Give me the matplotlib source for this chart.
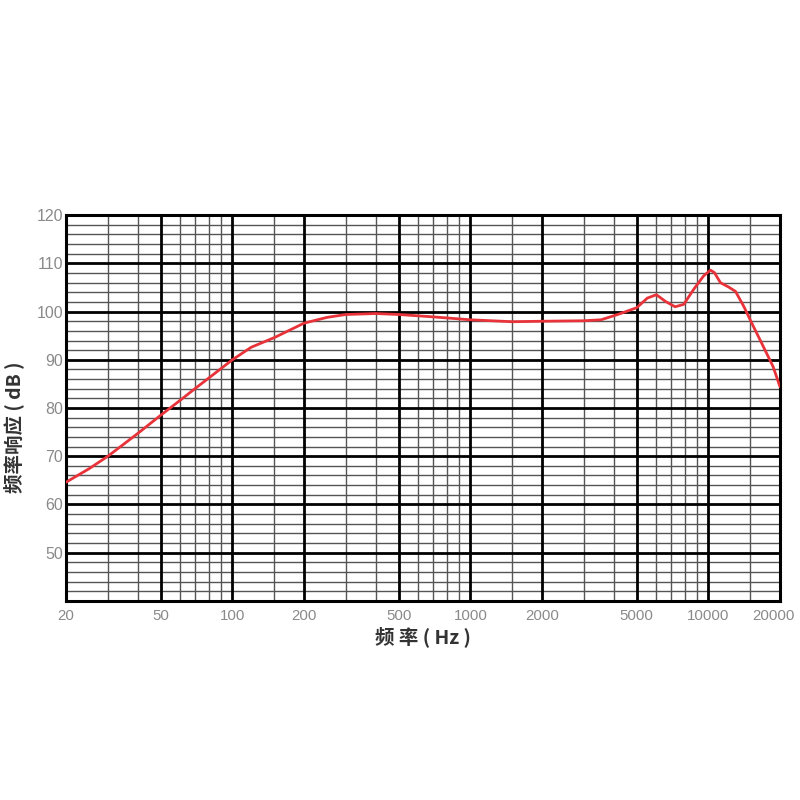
import matplotlib
matplotlib.use("Agg")
import matplotlib.pyplot as plt
import matplotlib.transforms as mtransforms

plt.rcParams['font.family'] = ['Liberation Sans', 'Noto Sans CJK SC', 'DejaVu Sans']

# 频率响应曲线
freq = [20, 25, 30, 40, 50, 60, 70, 80, 100, 120, 150, 200, 250, 300, 400,
        500, 700, 1000, 1500, 2000, 3000, 3540, 4160, 5000, 5540, 6050, 6610,
        7250, 7880, 8670, 9550, 10200, 10600, 11240, 12160, 13000, 14080,
        15470, 17000, 18700, 20000]
db = [64.6, 67.4, 70.0, 74.7, 78.5, 81.5, 84.1, 86.3, 90.0, 92.6, 94.6,
      97.6, 98.8, 99.4, 99.6, 99.4, 98.9, 98.3, 97.9, 98.0, 98.1, 98.3, 99.4,
      100.8, 102.8, 103.5, 102.1, 101.0, 101.5, 104.6, 107.4, 108.6, 108.1,
      106.0, 105.1, 104.2, 101.1, 96.9, 92.8, 88.6, 84.4]

major_x = [20, 50, 100, 200, 500, 1000, 2000, 5000, 10000, 20000]
minor_x = [30, 40, 60, 70, 80, 90, 150, 300, 400, 600, 700, 800, 900,
           1500, 3000, 4000, 6000, 7000, 8000, 9000, 15000]
major_y = [50, 60, 70, 80, 90, 100, 110, 120]
minor_y = [v for v in range(42, 120, 2) if v % 10 != 0]

fig = plt.figure(figsize=(8, 8), dpi=100)
ax = fig.add_axes([0.0825, 0.249, 0.8925, 0.482])
ax.set_xscale('log')
ax.set_xlim(20, 20000)
ax.set_ylim(40, 120)

# 网格
for x in minor_x:
    ax.axvline(x, color='#555555', lw=1.0, zorder=1)
for y in minor_y:
    ax.axhline(y, color='#555555', lw=1.0, zorder=1)
for x in major_x:
    ax.axvline(x, color='black', lw=2.0, zorder=2)
for y in major_y:
    ax.axhline(y, color='black', lw=2.0, zorder=2)

ax.plot(freq, db, color='#e8333a', lw=2.0, zorder=3,
        solid_joinstyle='round', solid_capstyle='round')

for s in ax.spines.values():
    s.set_linewidth(2.2)
    s.set_color('black')

ax.set_xticks(major_x)
ax.set_xticklabels([str(v) for v in major_x])
ax.xaxis.set_minor_locator(matplotlib.ticker.NullLocator())
ax.set_yticks(major_y)
ax.set_yticklabels([str(v) for v in major_y])
ax.tick_params(axis='x', length=0, labelsize=10.8, labelcolor='#8a8a8a', pad=6)
ax.tick_params(axis='y', length=0, labelsize=11.5, labelcolor='#8a8a8a', pad=2)

# 最右侧标签稍向左移, 避免被裁切
last = ax.get_xticklabels()[-1]
last.set_transform(last.get_transform() +
                   mtransforms.ScaledTranslation(-5 / 72, 0, fig.dpi_scale_trans))

ax.set_xlabel('频 率 ( Hz )', fontsize=14, fontweight='bold', color='#333333',
              family=['Noto Sans CJK SC', 'DejaVu Sans'], labelpad=2)
ax.set_ylabel('频率响应 ( dB )', fontsize=14, fontweight='bold', color='#333333',
              family=['Noto Sans CJK SC', 'DejaVu Sans'])
ax.yaxis.set_label_coords(-0.058, 0.45)

fig.savefig('out.png', dpi=100, facecolor='white')
